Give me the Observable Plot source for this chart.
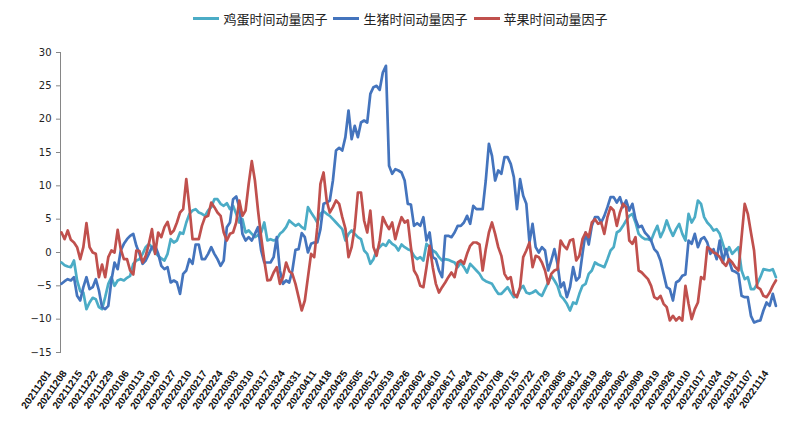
<!DOCTYPE html>
<html><head><meta charset="utf-8">
<script src="https://cdn.jsdelivr.net/npm/d3@7"></script>
<script src="https://cdn.jsdelivr.net/npm/@observablehq/plot@0.6"></script>
<style>
body{margin:0;background:#fff;width:807px;height:445px;overflow:hidden;}
#legend{height:36px;display:flex;justify-content:center;align-items:center;gap:6px;font-family:"Noto Sans CJK SC",sans-serif;font-size:13px;color:#222;box-sizing:border-box;padding-right:6px;}
#legend .item{display:flex;align-items:center;}
#legend .sw{width:26px;height:3px;margin-right:4px;}
</style></head>
<body><div id="legend"></div><div id="chart"></div>
<script>
const seriesNames = ["鸡蛋时间动量因子","生猪时间动量因子","苹果时间动量因子"];
const seriesColors = ["#4bacc6","#4474bd","#c0504d"];
const tickLabels = ["20211201","20211208","20211215","20211222","20211229","20220106","20220113","20220120","20220127","20220210","20220217","20220224","20220303","20220310","20220317","20220324","20220331","20220411","20220418","20220425","20220505","20220512","20220519","20220526","20220602","20220610","20220617","20220624","20220701","20220708","20220715","20220722","20220729","20220805","20220812","20220819","20220826","20220902","20220909","20220919","20220926","20221010","20221017","20221024","20221031","20221107","20221114"];
const yTicks = [-15,-10,-5,0,5,10,15,20,25,30];
const nCategories = 235; // trading days 20211201 .. 20221118

const egg = [
-1.5,-1.9,-2.1,-2.2,-1.2,-4.2,-5.8,-6.0,-8.5,-7.5,
-6.8,-7.0,-8.2,-8.5,-6.7,-4.7,-3.7,-5.0,-4.2,-4.0,
-4.2,-3.8,-3.5,-1.7,-1.2,-1.0,-0.2,0.8,1.3,
0.8,0.0,-0.5,-0.9,-1.2,-0.2,2.0,1.5,1.8,3.0,
2.8,4.5,5.8,6.3,6.5,6.0,5.8,5.5,6.3,6.8,
8.0,8.0,7.3,7.0,7.4,6.5,7.0,5.8,4.5,5.0,
3.0,3.3,2.8,2.3,2.6,3.0,4.5,1.8,2.0,1.8,
2.0,2.8,3.2,3.8,4.8,4.4,4.0,4.3,3.8,
3.5,6.8,6.0,5.3,4.5,5.8,6.2,5.8,5.5,5.0,
4.5,4.0,3.5,1.8,2.8,3.3,2.8,2.3,2.0,0.3,
-0.2,-1.7,-1.0,0.3,0.8,1.3,1.0,1.8,1.3,1.0,
0.3,1.2,0.8,0.5,0.3,-0.5,-1.0,-0.7,-1.2,
1.3,0.8,0.3,0.0,-0.7,-1.2,-1.0,-1.1,-1.3,-1.5,
-2.2,-1.5,-2.2,-3.0,-1.7,-2.2,-2.7,-3.2,-4.0,-4.3,
-4.5,-4.7,-5.5,-6.2,-6.2,-5.7,-5.2,-6.0,-6.7,-6.5,
-5.5,-5.0,-6.0,-6.2,-6.0,-5.7,-6.2,-6.5,-5.5,-4.5,
-3.5,-4.2,-5.0,-6.5,-7.0,-7.7,-8.7,-7.5,-7.7,
-6.2,-5.0,-4.7,-3.2,-2.7,-1.5,-1.8,-2.0,-2.2,-1.0,
0.3,0.8,3.0,3.3,4.0,4.8,5.5,5.8,4.5,2.8,
2.3,2.0,2.0,1.8,3.0,4.0,2.3,3.3,4.8,3.5,
2.5,3.5,4.3,2.8,1.8,5.8,4.5,5.3,7.8,
7.3,5.3,4.5,4.0,3.3,3.5,2.8,1.3,-0.2,0.8,
-0.2,0.3,0.8,-2.7,-4.0,-3.7,-5.5,-5.5,-4.7,-3.7,
-2.5,-2.6,-2.7,-2.5,-3.7];

const pig = [
-4.7,-4.3,-4.0,-4.2,-3.7,-6.5,-7.2,-5.2,-3.7,-5.5,
-5.2,-4.0,-5.7,-8.2,-8.5,-8.0,-4.2,-1.5,-2.5,0.3,
1.3,2.0,2.5,2.8,1.0,-0.2,-1.7,-1.2,-0.2,
0.8,1.0,-0.2,-2.0,-2.5,-2.2,-4.5,-4.2,-4.5,-6.2,
-3.2,-2.7,-1.0,-1.7,1.2,1.2,-1.0,-1.0,-0.2,0.8,
-0.2,-1.0,-2.0,-1.2,3.8,4.5,8.0,8.4,6.8,2.8,
1.8,2.3,1.8,2.8,3.8,0.3,-1.5,-1.5,-1.5,-0.7,
2.3,-2.7,-4.7,-4.2,-4.5,-2.7,0.4,0.5,2.9,
2.3,0.0,1.3,1.5,1.5,3.5,7.3,7.5,7.8,10.8,
15.3,15.7,15.3,17.3,21.3,17.0,19.0,17.3,19.5,19.8,
19.5,23.8,24.8,25.0,24.4,27.0,28.0,13.0,11.8,12.5,
12.3,12.0,10.8,7.3,7.2,4.0,4.4,4.0,5.3,
1.8,3.0,-0.7,-1.0,-2.7,-3.7,2.5,2.5,2.3,3.0,
4.0,4.0,4.5,5.5,4.3,7.0,6.5,6.5,6.5,10.8,
16.3,14.5,10.8,12.3,11.8,14.3,14.3,13.3,11.3,6.5,
11.0,8.5,7.3,1.5,4.3,0.8,0.0,0.8,0.3,-2.7,
-1.2,0.5,-1.7,-5.2,-4.5,-6.7,-5.2,-2.2,-4.2,
-3.7,-0.2,3.0,1.2,4.0,5.3,5.3,4.5,5.5,6.8,
8.3,8.3,7.5,8.3,6.8,7.8,6.3,7.3,5.0,3.8,
4.0,3.0,2.5,1.8,0.5,0.0,-1.2,-3.2,-5.2,-5.5,
-7.2,-4.5,-4.2,-3.5,-3.3,1.8,1.3,2.8,0.8,
2.0,2.3,1.5,-0.2,0.5,-1.0,1.8,-1.5,0.5,-1.2,
-2.7,-2.9,-3.2,-6.5,-6.7,-6.7,-9.5,-10.5,-10.3,-10.2,
-8.7,-7.5,-8.0,-6.2,-8.0];

const apple = [
3.0,2.0,3.3,1.9,1.5,0.8,-1.0,0.8,4.4,0.8,
0.0,-0.2,-3.7,-1.8,-3.7,-0.7,0.3,0.0,3.4,0.5,
-1.0,-1.0,-2.7,-3.3,0.3,0.2,-1.5,-0.5,1.3,
3.5,-0.2,3.0,2.3,3.8,4.6,2.8,3.3,4.5,6.0,
6.5,11.0,6.8,2.0,2.0,2.0,4.0,5.3,5.5,7.5,
6.8,6.0,5.5,3.0,1.8,2.8,3.0,4.5,7.8,5.5,
6.3,10.3,13.7,10.8,6.3,2.3,-1.2,-4.2,-4.1,-3.0,
-2.2,-4.7,-3.7,-1.5,-2.8,-3.2,-4.7,-6.7,-8.7,
-7.2,-3.7,-0.2,-0.7,3.8,10.3,12.0,7.8,6.0,6.8,
7.8,7.3,5.3,3.6,-0.7,0.8,3.8,9.0,9.0,4.8,
3.0,6.3,0.8,-0.5,1.8,5.3,4.3,3.5,4.5,2.0,
3.8,5.3,4.5,4.8,0.8,-2.7,-3.5,-5.0,-5.2,
-2.2,1.0,-2.2,-4.7,-6.0,-5.2,-4.5,-3.7,-3.0,-3.7,
-1.5,-1.2,-1.7,-0.2,1.0,1.5,1.5,1.2,-2.7,0.5,
3.0,4.5,2.8,0.8,-0.5,-3.2,-4.0,-3.7,-6.2,-6.7,
-5.2,-0.7,0.3,1.5,-2.2,-0.5,-0.7,-1.5,-2.7,-4.7,
-3.2,-2.7,-2.5,1.8,1.0,0.5,1.8,2.0,-1.2,
-0.5,2.0,3.0,2.3,4.5,5.0,4.3,4.5,2.8,5.3,
6.8,6.3,4.0,6.0,7.3,6.8,1.8,1.3,2.3,-2.7,
-3.0,-3.5,-4.0,-5.0,-6.7,-7.0,-6.5,-7.7,-8.2,-10.2,
-9.5,-10.2,-9.7,-10.2,-5.0,-7.7,-10.0,-8.5,-7.5,
-3.7,-4.0,0.8,0.5,0.0,-0.2,-0.7,-1.5,-2.0,-1.0,
-1.5,-2.2,-2.7,2.3,7.3,5.8,3.0,0.3,-5.2,-5.5,
-6.5,-6.7,-6.0,-5.0,-4.2];

const allSeries = [egg, pig, apple];
const rows = allSeries.flatMap((arr, s) => arr.map((v, i) => ({i, v, s: seriesNames[s]})));
const tickIdx = tickLabels.map((_, k) => k * 5);

// legend
const lg = document.getElementById("legend");
seriesNames.forEach((n, k) => {
  const it = document.createElement("div"); it.className = "item";
  const sw = document.createElement("div"); sw.className = "sw"; sw.style.background = seriesColors[k];
  const tx = document.createElement("span"); tx.textContent = n;
  it.appendChild(sw); it.appendChild(tx); lg.appendChild(it);
});

const chart = Plot.plot({
  width: 807, height: 409,
  marginTop: 16, marginBottom: 93, marginLeft: 60, marginRight: 16,
  style: {background: "#fff", fontFamily: "DejaVu Sans, sans-serif"},
  x: {domain: [0, nCategories - 1], range: [61, 791], axis: null},
  y: {domain: [-15, 30], axis: null},
  color: {domain: seriesNames, range: seriesColors},
  marks: [
    Plot.frame({anchor: "left", stroke: "#868686"}),
    Plot.axisY({ticks: yTicks, label: null, tickSize: 4, tickPadding: 5, fontSize: 10, stroke: "#868686", fill: "#222", fontFamily: "DejaVu Sans"}),
    Plot.line(rows, {x: "i", y: "v", z: "s", stroke: "s", strokeWidth: 2.7, strokeLinejoin: "round", strokeLinecap: "round"}),
    Plot.text(tickIdx, {x: d => d, text: d => tickLabels[d / 5], frameAnchor: "bottom", dy: 21, dx: -10, rotate: -55, textAnchor: "end", fontSize: 10, fontWeight: "bold", fontFamily: "Liberation Sans", fill: "#111"})
  ]
});
document.getElementById("chart").appendChild(chart);
</script>
</body></html>
